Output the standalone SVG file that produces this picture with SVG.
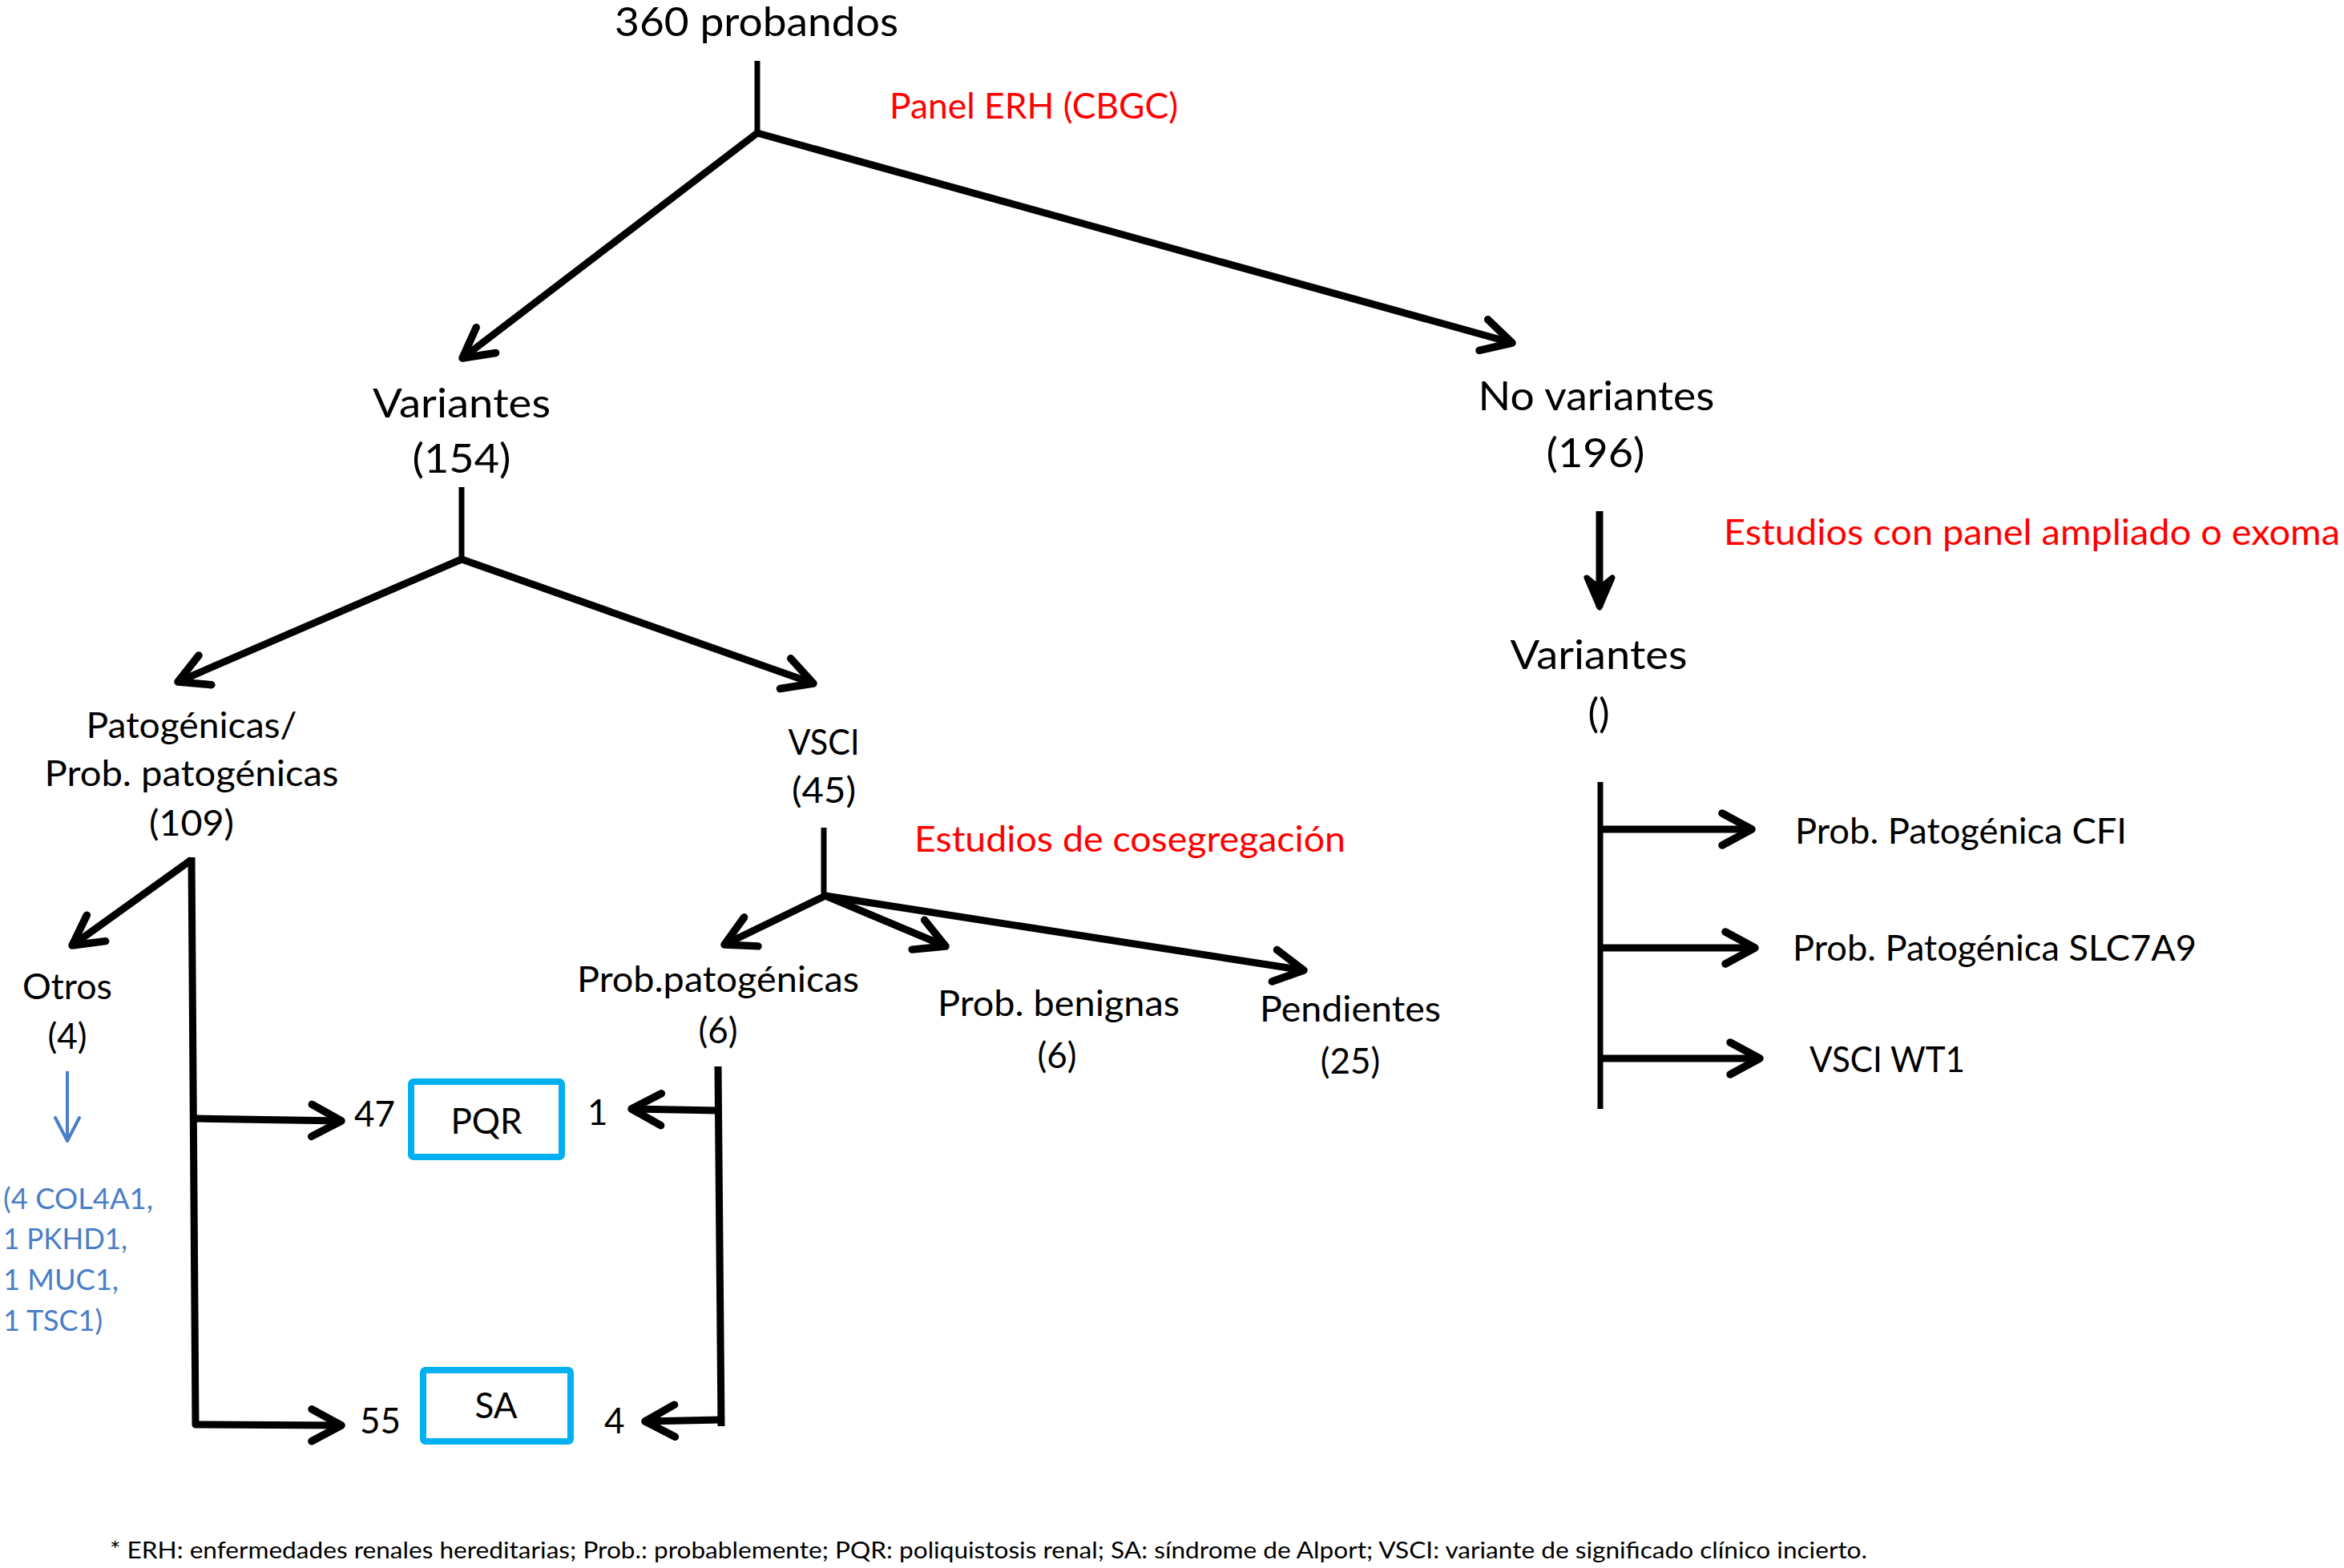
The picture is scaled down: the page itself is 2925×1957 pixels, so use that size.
<svg xmlns="http://www.w3.org/2000/svg" width="2925" height="1957" viewBox="0 0 2925 1957">
<style>
text{font-family:Lato,"Carlito","Liberation Sans",sans-serif;fill:#000}
.l1{font-size:51px}
.l2{font-size:44px}
.red{font-size:44px;fill:#FF0000}
.blue{font-size:37px;fill:#4A7EC6}
.foot{font-size:29px}
.c{text-anchor:middle}
.ln{fill:none;stroke:#000;stroke-width:9;stroke-linecap:butt;stroke-linejoin:round}
.stem{fill:none;stroke:#000;stroke-width:7}
.box{fill:none;stroke:#00B0F0;stroke-width:8}
</style>
<defs>
<marker id="open" viewBox="-50 -30 60 60" refX="0" refY="0" markerWidth="60" markerHeight="60" orient="auto" markerUnits="userSpaceOnUse">
<path d="M-37,-20 L0,0 L-37,20" fill="none" stroke="#000" stroke-width="9.5" stroke-linecap="round" stroke-linejoin="round"/>
</marker>
<marker id="stealth" viewBox="-50 -30 60 60" refX="0" refY="0" markerWidth="60" markerHeight="60" orient="auto" markerUnits="userSpaceOnUse">
<path d="M-37,-16 L0,0 L-37,16 L-24,0 Z" fill="#000" stroke="#000" stroke-width="7" stroke-linejoin="round"/>
</marker>
<marker id="blueopen" viewBox="-40 -20 50 40" refX="0" refY="0" markerWidth="50" markerHeight="40" orient="auto" markerUnits="userSpaceOnUse">
<path d="M-29,-15 L0,0 L-29,15" fill="none" stroke="#4A7EC6" stroke-width="4" stroke-linecap="round" stroke-linejoin="round"/>
</marker>
</defs>
<rect width="2925" height="1957" fill="#fff"/>

<g id="connectors">
<path class="stem" d="M945,76 V166"/>
<path class="ln" d="M945,166 L577,447" marker-end="url(#open)"/>
<path class="ln" d="M945,166 L1887,428" marker-end="url(#open)"/>
<path class="stem" d="M576,608 V698"/>
<path class="ln" d="M576,698 L222,851" marker-end="url(#open)"/>
<path class="ln" d="M576,698 L1015,853" marker-end="url(#open)"/>
<path class="ln" d="M239,1073 L90,1180" marker-end="url(#open)"/>
<path class="ln" d="M239,1070 L244,1778 L426,1779" marker-end="url(#open)"/>
<path class="ln" d="M244,1396 L426,1399" marker-end="url(#open)"/>
<path class="ln" d="M896,1331 L900,1780"/>
<path class="ln" d="M896,1386 L788,1384" marker-end="url(#open)"/>
<path class="ln" d="M900,1772 L805,1774" marker-end="url(#open)"/>
<path class="stem" d="M1028,1033 V1122"/>
<path class="ln" d="M1030,1118 L904,1179" marker-end="url(#open)"/>
<path class="ln" d="M1030,1118 L1180,1181" marker-end="url(#open)"/>
<path class="ln" d="M1030,1118 L1627,1211" marker-end="url(#open)"/>
<path class="ln" d="M1996,638 V758" marker-end="url(#stealth)"/>
<path class="stem" d="M1997,976 V1384"/>
<path class="ln" d="M1997,1035 H2186" marker-end="url(#open)"/>
<path class="ln" d="M1997,1183 H2190" marker-end="url(#open)"/>
<path class="ln" d="M1997,1321 H2196" marker-end="url(#open)"/>
<path d="M84,1337 V1424" fill="none" stroke="#4A7EC6" stroke-width="4" marker-end="url(#blueopen)"/>
</g>

<g id="n-root">
<text class="l1 c" x="944" y="45" textLength="354" lengthAdjust="spacingAndGlyphs">360 probandos</text>
</g>
<g id="lbl-panel">
<text class="red" x="1110" y="148" textLength="360" lengthAdjust="spacingAndGlyphs">Panel ERH (CBGC)</text>
</g>
<g id="n-variantes">
<text class="l1 c" x="576" y="521" textLength="222" lengthAdjust="spacingAndGlyphs">Variantes</text>
<text class="l1 c" x="576" y="590" textLength="123" lengthAdjust="spacingAndGlyphs">(154)</text>
</g>
<g id="n-novariantes">
<text class="l1 c" x="1992" y="512" textLength="295" lengthAdjust="spacingAndGlyphs">No variantes</text>
<text class="l1 c" x="1991" y="583" textLength="123" lengthAdjust="spacingAndGlyphs">(196)</text>
</g>
<g id="lbl-exoma">
<text class="red" x="2151" y="680" textLength="769" lengthAdjust="spacingAndGlyphs">Estudios con panel ampliado o exoma</text>
</g>
<g id="n-variantes2">
<text class="l1 c" x="1995" y="835" textLength="221" lengthAdjust="spacingAndGlyphs">Variantes</text>
<text class="l1 c" x="1995" y="908">()</text>
</g>
<g id="n-patogenicas">
<text class="l2 c" x="239" y="921" textLength="263" lengthAdjust="spacingAndGlyphs">Patogénicas/</text>
<text class="l2 c" x="239" y="981" textLength="367" lengthAdjust="spacingAndGlyphs">Prob. patogénicas</text>
<text class="l2 c" x="239" y="1043" textLength="106" lengthAdjust="spacingAndGlyphs">(109)</text>
</g>
<g id="n-vsci">
<text class="l2 c" x="1028" y="942" textLength="89" lengthAdjust="spacingAndGlyphs">VSCI</text>
<text class="l2 c" x="1028" y="1002" textLength="80" lengthAdjust="spacingAndGlyphs">(45)</text>
</g>
<g id="lbl-coseg">
<text class="red" x="1141" y="1063" textLength="538" lengthAdjust="spacingAndGlyphs">Estudios de cosegregación</text>
</g>
<g id="n-otros">
<text class="l2 c" x="84" y="1247" textLength="112" lengthAdjust="spacingAndGlyphs">Otros</text>
<text class="l2 c" x="84" y="1309">(4)</text>
</g>
<g id="n-otros-genes">
<text class="blue" x="4" y="1509" textLength="187" lengthAdjust="spacingAndGlyphs">(4 COL4A1,</text>
<text class="blue" x="4" y="1559" textLength="155" lengthAdjust="spacingAndGlyphs">1 PKHD1,</text>
<text class="blue" x="4" y="1610" textLength="144" lengthAdjust="spacingAndGlyphs">1 MUC1,</text>
<text class="blue" x="4" y="1661" textLength="124" lengthAdjust="spacingAndGlyphs">1 TSC1)</text>
</g>
<g id="n-probpat">
<text class="l2 c" x="896" y="1238" textLength="352" lengthAdjust="spacingAndGlyphs">Prob.patogénicas</text>
<text class="l2 c" x="896" y="1302">(6)</text>
</g>
<g id="n-benignas">
<text class="l2 c" x="1321" y="1268" textLength="302" lengthAdjust="spacingAndGlyphs">Prob. benignas</text>
<text class="l2 c" x="1319" y="1333">(6)</text>
</g>
<g id="n-pendientes">
<text class="l2 c" x="1685" y="1275" textLength="226" lengthAdjust="spacingAndGlyphs">Pendientes</text>
<text class="l2 c" x="1685" y="1340">(25)</text>
</g>
<g id="n-pqr">
<text class="l2" x="442" y="1406">47</text>
<rect class="box" x="513" y="1350" width="188" height="94" rx="3"/>
<text class="l2 c" x="607" y="1415">PQR</text>
<text class="l2" x="733" y="1404">1</text>
</g>
<g id="n-sa">
<text class="l2" x="449" y="1789">55</text>
<rect class="box" x="528" y="1710" width="184" height="89" rx="3"/>
<text class="l2 c" x="619" y="1770">SA</text>
<text class="l2" x="754" y="1789">4</text>
</g>
<g id="n-cfi">
<text class="l2" x="2240" y="1053" textLength="414" lengthAdjust="spacingAndGlyphs">Prob. Patogénica CFI</text>
</g>
<g id="n-slc7a9">
<text class="l2" x="2237" y="1199" textLength="504" lengthAdjust="spacingAndGlyphs">Prob. Patogénica SLC7A9</text>
</g>
<g id="n-wt1">
<text class="l2" x="2258" y="1338" textLength="194" lengthAdjust="spacingAndGlyphs">VSCI WT1</text>
</g>
<g id="footnote">
<text class="foot" x="137" y="1945" textLength="2193" lengthAdjust="spacingAndGlyphs">* ERH: enfermedades renales hereditarias; Prob.: probablemente; PQR: poliquistosis renal; SA: síndrome de Alport; VSCI: variante de significado clínico incierto.</text>
</g>
</svg>
